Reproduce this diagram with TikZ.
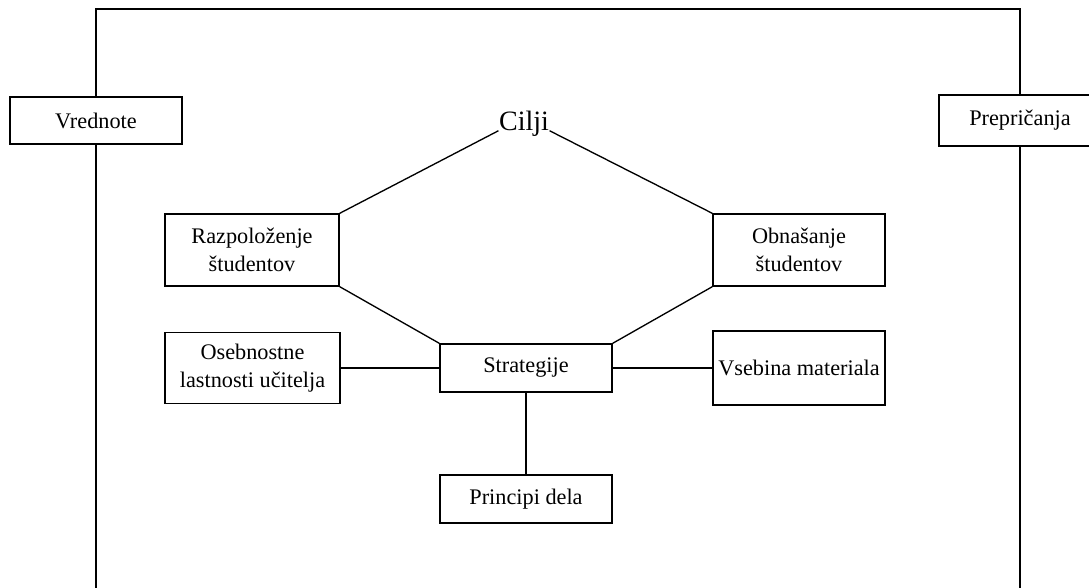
\documentclass[tikz,border=0pt]{standalone}
\usepackage{fontspec}
\setmainfont{Liberation Serif}
\begin{document}
\begin{tikzpicture}[x=0.75pt,y=-0.75pt,
  line width=1pt,
  box/.style={draw, line width=1pt, inner sep=0pt, align=center,
    font=\fontsize{16.7}{21}\selectfont, minimum width=129pt},
  link/.style={draw, line width=1pt}
]
\useasboundingbox (0,0) rectangle (1089,588);
\clip (0,0) rectangle (1089,588);
% corners of the frame
\coordinate (tl) at (96,9);
\coordinate (tr) at (1020,9);
\coordinate (bl) at (96,590);
\coordinate (br) at (1020,590);

\node[box, minimum height=35.25pt] (vred) at (96,120.5) {Vrednote};
\node[box, minimum width=121.5pt, minimum height=38.25pt] (prep) at (1020,120.5) {Prepričanja};
\node[inner sep=0pt, font=\fontsize{21}{25}\selectfont] (cilji) at (524,124) {Cilji};
\node[box, minimum width=130.5pt, minimum height=54pt] (razp) at (252,250) {Razpoloženje\\študentov};
\node[box, minimum height=54pt] (obna) at (799,250) {Obnašanje\\študentov};
\node[box, minimum width=131.25pt, minimum height=53.25pt] (oseb) at (252.5,368) {Osebnostne\\lastnosti učitelja};
\node[box, minimum height=36pt] (strat) at (526,368) {Strategije};
\node[box, minimum height=55.5pt] (vseb) at (799,368) {Vsebina materiala};
\node[box, minimum height=36pt] (prin) at (526,499) {Principi dela};

% frame
\draw[link] (vred.north) -- (tl) -- (tr) -- (prep.north);
\draw[link] (vred.south) -- (bl);
\draw[link] (prep.south) -- (br);

% connectors
\draw[link] (cilji.base west) -- (razp.north east);
\draw[link] (cilji.base east) -- (obna.north west);
\draw[link] (razp.south east) -- (strat.north west);
\draw[link] (obna.south west) -- (strat.north east);
\draw[link] (oseb.east) -- (strat.west);
\draw[link] (strat.east) -- (vseb.west);
\draw[link] (strat.south) -- (prin.north);
\end{tikzpicture}
\end{document}
